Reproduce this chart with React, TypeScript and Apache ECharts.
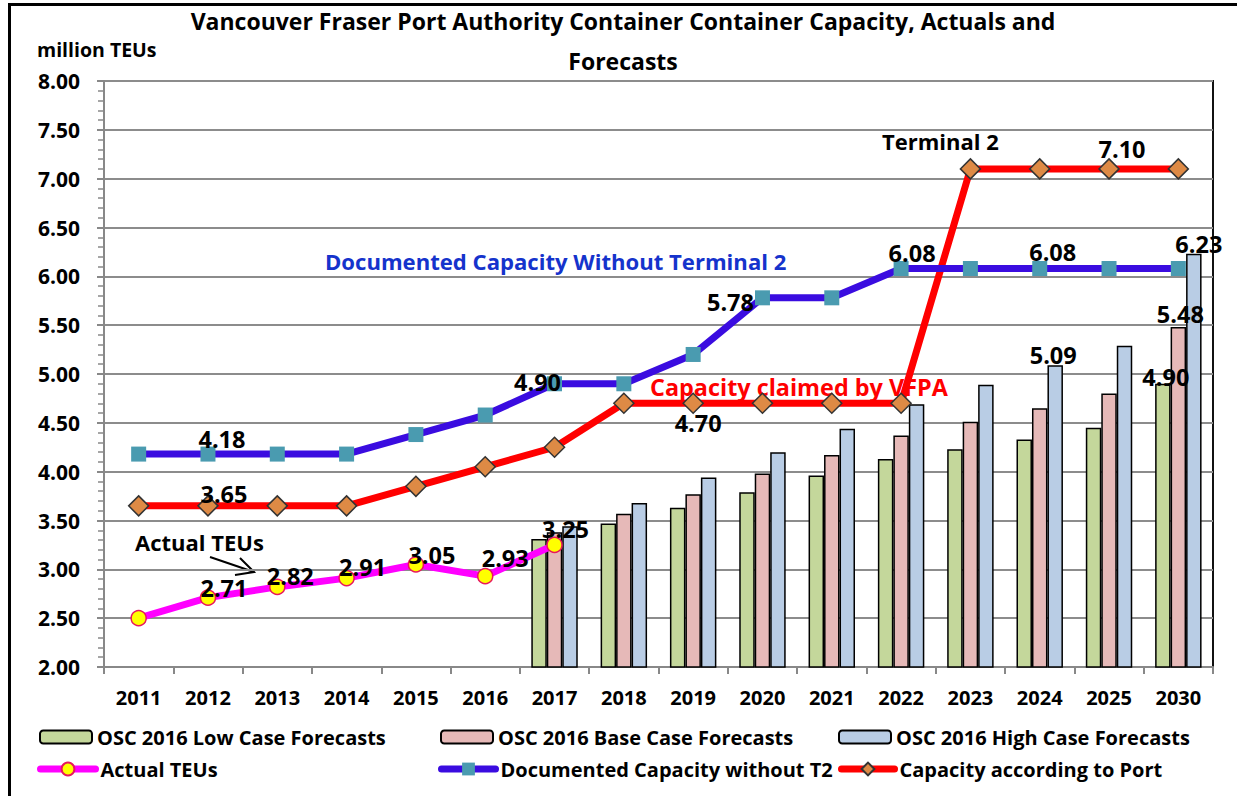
import React, { useEffect, useRef } from "react";
import * as echarts from "echarts";

const years = ["2011", "2012", "2013", "2014", "2015", "2016", "2017", "2018", "2019", "2020", "2021", "2022", "2023", "2024", "2025", "2030"];
const lowCase = [null, null, null, null, null, null, 3.31, 3.47, 3.63, 3.79, 3.96, 4.13, 4.23, 4.33, 4.45, 4.90];
const baseCase = [null, null, null, null, null, null, 3.38, 3.57, 3.77, 3.98, 4.17, 4.37, 4.51, 4.65, 4.80, 5.48];
const highCase = [null, null, null, null, null, null, 3.44, 3.68, 3.94, 4.20, 4.44, 4.69, 4.89, 5.09, 5.29, 6.23];
const actual = [2.50, 2.71, 2.82, 2.91, 3.05, 2.93, 3.25, null, null, null, null, null, null, null, null, null];
const docCap = [4.18, 4.18, 4.18, 4.18, 4.38, 4.58, 4.90, 4.90, 5.20, 5.78, 5.78, 6.08, 6.08, 6.08, 6.08, 6.08];
const portCap = [3.65, 3.65, 3.65, 3.65, 3.85, 4.05, 4.25, 4.70, 4.70, 4.70, 4.70, 4.70, 7.10, 7.10, 7.10, 7.10];
const yTicks = { min: 2, max: 8, interval: 0.5 };

const names = {
  low: "OSC 2016 Low Case Forecasts",
  base: "OSC 2016 Base Case Forecasts",
  high: "OSC 2016 High Case Forecasts",
  actual: "Actual TEUs",
  doc: "Documented Capacity without T2",
  port: "Capacity according to Port",
};

// label placement (style only): index -> [dx, dy]
const actualLbl: Record<number, number[]> = { 1: [16, -10], 2: [13, -11], 3: [16, -11], 4: [16, -9], 5: [20, -18], 6: [11, -16] };
const docLbl: Record<number, number[]> = { 1: [14, -15], 6: [-17, -2], 9: [-32, 4], 11: [11, -16], 13: [13, -17] };
const portLbl: Record<number, number[]> = { 1: [16, -12], 8: [5, 20], 14: [13, -20] };
const lowLbl: Record<number, number[]> = { 15: [3, 5] };
const baseLbl: Record<number, number[]> = { 15: [2, -1] };
const highLbl: Record<number, number[]> = { 13: [-2, 2], 15: [5, 2] };

const FONT = "Open Sans";
const lblStyle = { fontFamily: FONT, fontWeight: "bold" as const, fontSize: 23.5, color: "#000" };

function lineData(vals: (number | null)[], lbl: Record<number, number[]>) {
  return vals.map((v, i) =>
    lbl[i] ? { value: v, label: { show: true, position: "inside", offset: lbl[i], formatter: (p: any) => Number(p.value).toFixed(2), ...lblStyle } } : v
  );
}
function barData(vals: (number | null)[], lbl: Record<number, number[]>) {
  return vals.map((v, i) =>
    lbl[i] ? { value: v, label: { show: true, position: "top", distance: 0, offset: lbl[i], formatter: (p: any) => Number(p.value).toFixed(2), ...lblStyle } } : v
  );
}

export default function App() {
  const ref = useRef<HTMLDivElement>(null);
  useEffect(() => {
    if (!ref.current) return;
    const chart = echarts.init(ref.current, null, { renderer: "svg" });
    const legTxt = { fontFamily: FONT, fontWeight: "bold" as const, fontSize: 20, color: "#000" };
    const mkLegend = (name: string, left: number, top: number, w: number, h: number, line: boolean) => ({
      data: [name], left, top, itemWidth: w, itemHeight: h, padding: 0, itemGap: 0,
      textStyle: legTxt, selectedMode: false,
      ...(line ? { lineStyle: { width: 7, cap: "round" } } : {}),
    });
    const barStyle = (c: string) => ({ color: c, borderColor: "#000", borderWidth: 1.5 });
    chart.setOption({
      animation: false,
      backgroundColor: "#fff",
      grid: { left: 104, right: 24, top: 81, bottom: 129, show: true, borderColor: "#111", borderWidth: 2 },
      legend: [
        mkLegend(names.low, 39, 727, 52, 13, false),
        mkLegend(names.base, 440, 727, 52, 13, false),
        mkLegend(names.high, 838, 727, 52, 13, false),
        mkLegend(names.actual, 37, 759, 55, 16, true),
        mkLegend(names.doc, 438, 759, 54, 16, true),
        mkLegend(names.port, 838, 759, 53, 16, true),
      ],
      xAxis: {
        type: "category",
        data: years,
        boundaryGap: true,
        axisLine: { lineStyle: { color: "#888", width: 2 } },
        axisTick: { show: true, length: 7, lineStyle: { color: "#888", width: 2 } },
        axisLabel: { margin: 20, fontFamily: FONT, fontWeight: "bold", fontSize: 20, color: "#000" },
        splitLine: { show: false },
      },
      yAxis: {
        type: "value",
        min: yTicks.min,
        max: yTicks.max,
        interval: yTicks.interval,
        axisLine: { show: true, lineStyle: { color: "#888", width: 2 } },
        axisTick: { show: true, length: 7, lineStyle: { color: "#888", width: 2 } },
        minorTick: { show: true, splitNumber: 5, length: 6, lineStyle: { color: "#888", width: 1.5 } },
        splitLine: { show: true, lineStyle: { color: "#8c8c8c", width: 2 } },
        axisLabel: { margin: 24, fontFamily: FONT, fontWeight: "bold", fontSize: 21, color: "#000", formatter: (v: number) => v.toFixed(2) },
      },
      series: [
        { name: names.low, type: "bar", data: barData(lowCase, lowLbl), itemStyle: barStyle("#C4D79B"), barGap: "0%", barCategoryGap: "33%" },
        { name: names.base, type: "bar", data: barData(baseCase, baseLbl), itemStyle: barStyle("#E6B9B8"), barGap: "0%", barCategoryGap: "33%" },
        { name: names.high, type: "bar", data: barData(highCase, highLbl), itemStyle: barStyle("#B9CDE5"), barGap: "0%", barCategoryGap: "33%" },
        {
          name: names.port, type: "line", data: lineData(portCap, portLbl),
          symbol: "diamond", symbolSize: 20,
          lineStyle: { color: "#FF0000", width: 7 },
          itemStyle: { color: "#DE8A45", borderColor: "#333", borderWidth: 1.5 },
        },
        {
          name: names.doc, type: "line", data: lineData(docCap, docLbl),
          symbol: "rect", symbolSize: 15,
          lineStyle: { color: "#3A0CE0", width: 7 },
          itemStyle: { color: "#4A9BB0", borderColor: "#4A9BB0", borderWidth: 0 },
        },
        {
          name: names.actual, type: "line", data: lineData(actual, actualLbl),
          symbol: "circle", symbolSize: 15,
          lineStyle: { color: "#FF00FF", width: 7 },
          itemStyle: { color: "#FFFF00", borderColor: "#E8175D", borderWidth: 1.5 },
        },
      ],
      graphic: [
        { type: "rect", shape: { x: 9.5, y: 4.5, width: 1400, height: 1000 }, style: { fill: "none", stroke: "#000", lineWidth: 3 }, silent: true },
        { type: "text", x: 623, y: 21, style: { text: "Vancouver Fraser Port Authority Container Container Capacity, Actuals and", textAlign: "center", textVerticalAlign: "middle", fontFamily: FONT, fontWeight: "bold", fontSize: 23, fill: "#000" } },
        { type: "text", x: 623, y: 61, style: { text: "Forecasts", textAlign: "center", textVerticalAlign: "middle", fontFamily: FONT, fontWeight: "bold", fontSize: 23, fill: "#000" } },
        { type: "text", x: 37, y: 49, style: { text: "million TEUs", textAlign: "left", textVerticalAlign: "middle", fontFamily: FONT, fontWeight: "bold", fontSize: 19.5, fill: "#000" } },
        { type: "text", x: 325, y: 261, style: { text: "Documented Capacity Without Terminal 2", textAlign: "left", textVerticalAlign: "middle", fontFamily: FONT, fontWeight: "bold", fontSize: 22.1, fill: "#1533CC" } },
        { type: "text", x: 650, y: 387, style: { text: "Capacity claimed by VFPA", textAlign: "left", textVerticalAlign: "middle", fontFamily: FONT, fontWeight: "bold", fontSize: 23.4, fill: "#FF0000" } },
        { type: "text", x: 882, y: 141, style: { text: "Terminal 2", textAlign: "left", textVerticalAlign: "middle", fontFamily: FONT, fontWeight: "bold", fontSize: 22, fill: "#000" } },
        { type: "text", x: 135, y: 542, style: { text: "Actual TEUs", textAlign: "left", textVerticalAlign: "middle", fontFamily: FONT, fontWeight: "bold", fontSize: 22, fill: "#000" } },
        { type: "line", shape: { x1: 210, y1: 557, x2: 254, y2: 572 }, style: { stroke: "#000", lineWidth: 2 } },
        { type: "polyline", shape: { points: [[240, 558], [254, 572], [235, 575]] }, style: { stroke: "#000", lineWidth: 2, fill: "none" } },
      ],
    });
    return () => chart.dispose();
  }, []);
  return <div ref={ref} style={{ position: "absolute", left: 0, top: 0, width: 1237, height: 796 }} />;
}
